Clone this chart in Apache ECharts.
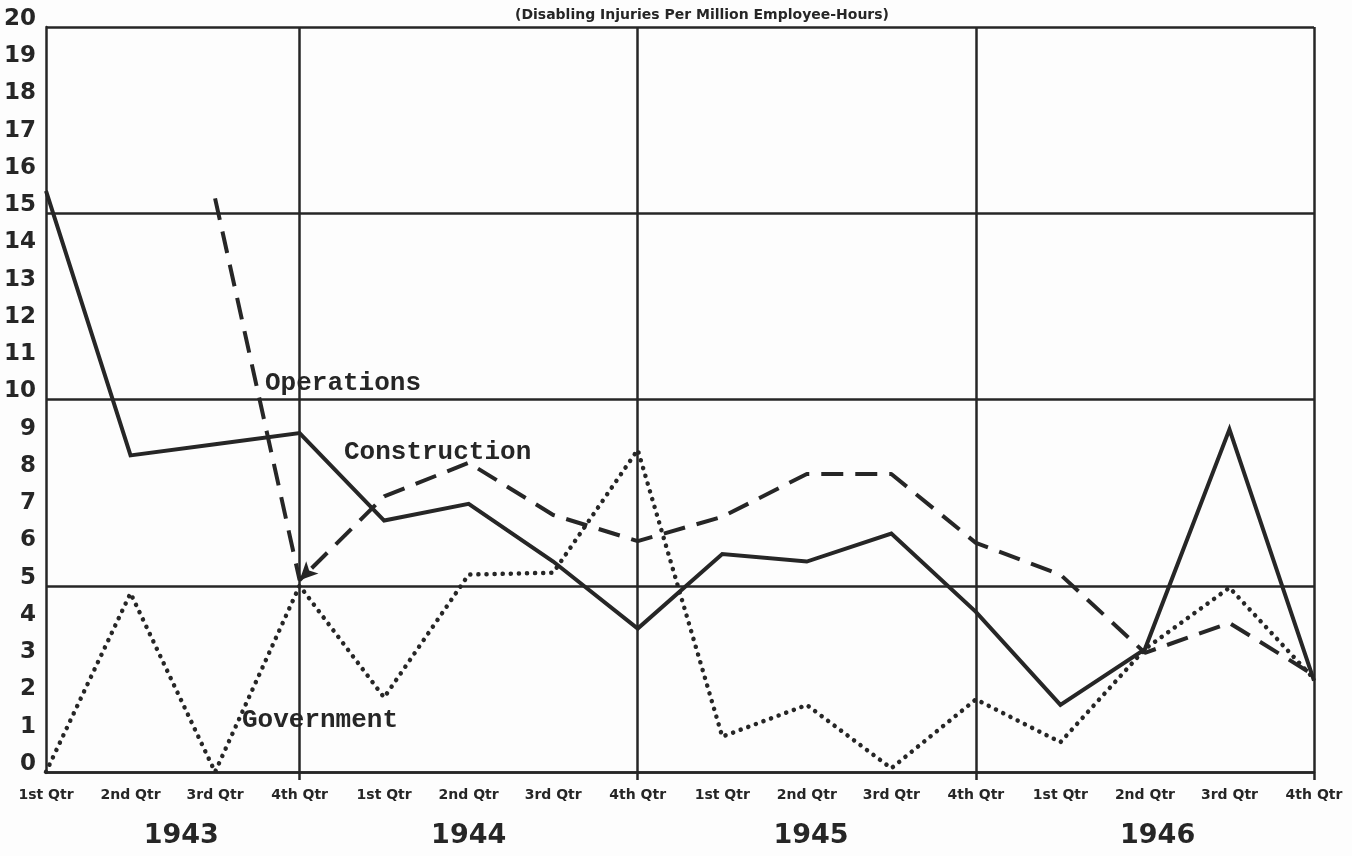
<!DOCTYPE html>
<html>
<head>
<meta charset="utf-8">
<script src="https://cdn.jsdelivr.net/npm/echarts@6/dist/echarts.min.js"></script>
<style>
html,body{margin:0;padding:0;background:#fdfdfd;}
#chart{width:1352px;height:856px;}
</style>
</head>
<body>
<div id="chart"></div>
<script>
const quarters = ['1st Qtr','2nd Qtr','3rd Qtr','4th Qtr','1st Qtr','2nd Qtr','3rd Qtr','4th Qtr','1st Qtr','2nd Qtr','3rd Qtr','4th Qtr','1st Qtr','2nd Qtr','3rd Qtr','4th Qtr'];
const years = ['1943','1944','1945','1946'];
const construction = [15.6, 8.5, 8.8, 9.1, 6.75, 7.2, 5.65, 3.85, 5.85, 5.65, 6.4, 4.3, 1.8, 3.3, 9.2, 2.45];
const operations = [null, null, 15.4, 5.15, 7.4, 8.3, 6.9, 6.2, 6.85, 8.0, 8.0, 6.15, 5.3, 3.2, 4.0, 2.6];
const government = [0, 4.8, 0, 5.0, 2.0, 5.3, 5.35, 8.65, 0.95, 1.8, 0.1, 1.95, 0.8, 3.3, 4.95, 2.5];
const yTicks = [0,1,2,3,4,5,6,7,8,9,10,11,12,13,14,15,16,17,18,19,20];

const ink = '#262626';
const chart = echarts.init(document.getElementById('chart'));
const q4 = (i) => i % 4 === 3;

const opsData = operations.map((v, i) => i === 3
  ? {value: v, symbol: 'arrow', symbolSize: [13, 18], symbolRotate: 135, itemStyle: {color: ink}}
  : v);

chart.setOption({
  backgroundColor: '#fdfdfd',
  animation: false,
  title: {
    text: '(Disabling Injuries Per Million Employee-Hours)',
    left: 697, top: 3, textAlign: 'center',
    textStyle: {fontFamily: 'DejaVu Sans', fontWeight: 'bold', fontSize: 14, color: ink}
  },
  grid: {left: 46, right: 38, top: 27, bottom: 84},
  xAxis: {
    type: 'category', data: quarters, boundaryGap: false,
    axisLine: {show: true, lineStyle: {color: ink, width: 2.5}},
    axisTick: {show: true, interval: (i) => q4(i), length: 8, lineStyle: {color: ink, width: 2.5}},
    splitLine: {show: true, interval: (i) => q4(i), lineStyle: {color: ink, width: 2.5}},
    axisLabel: {interval: 0, margin: 16, fontFamily: 'DejaVu Sans', fontWeight: 'bold', fontSize: 14, color: ink}
  },
  yAxis: [{
    type: 'value', min: 0, max: 20, interval: 1,
    axisLine: {show: true, lineStyle: {color: ink, width: 2.5}},
    axisTick: {show: false}, splitLine: {show: false},
    axisLabel: {margin: 10, fontFamily: 'DejaVu Sans', fontWeight: 'bold', fontSize: 23, color: ink,
      verticalAlign: 'bottom', lineHeight: 16,
      formatter: (v) => yTicks.includes(v) ? String(v) : ''}
  }, {
    type: 'value', min: 0, max: 20, interval: 5, position: 'left',
    axisLine: {show: false}, axisTick: {show: false}, axisLabel: {show: false},
    splitLine: {show: true, lineStyle: {color: ink, width: 2.5}}
  }],
  series: [{
    name: 'Construction', type: 'line', data: construction, symbol: 'none',
    lineStyle: {color: ink, width: 4, join: 'miter'}
  }, {
    name: 'Operations', type: 'line', data: opsData, symbol: 'none', connectNulls: false,
    lineStyle: {color: ink, width: 4, type: [22, 12]}
  }, {
    name: 'Government', type: 'line', data: government, symbol: 'none',
    lineStyle: {color: ink, width: 4.5, type: [0.1, 8], cap: 'round'}
  }]
});

function yearGraphics() {
  const pos = [1.6, 5.0, 9.05, 13.15];
  const items = years.map((y, k) => {
    const i = Math.floor(pos[k]);
    const f = pos[k] - i;
    const a = chart.convertToPixel({xAxisIndex: 0}, i);
    const b = chart.convertToPixel({xAxisIndex: 0}, i + 1);
    const x = a + (b - a) * f;
    return {type: 'text', x: x, y: 836, style: {text: y, fill: ink, font: 'bold 27px "DejaVu Sans"', align: 'center', verticalAlign: 'middle'}};
  });
  const mono = 'bold 26px "Liberation Mono"';
  items.push({type: 'text', x: 265, y: 383, style: {text: 'Operations', fill: ink, font: mono, align: 'left', verticalAlign: 'middle'}});
  items.push({type: 'text', x: 344, y: 452, style: {text: 'Construction', fill: ink, font: mono, align: 'left', verticalAlign: 'middle'}});
  items.push({type: 'text', x: 242, y: 720, style: {text: 'Government', fill: ink, font: mono, align: 'left', verticalAlign: 'middle'}});
  chart.setOption({graphic: items});
}
yearGraphics();
</script>
</body>
</html>
